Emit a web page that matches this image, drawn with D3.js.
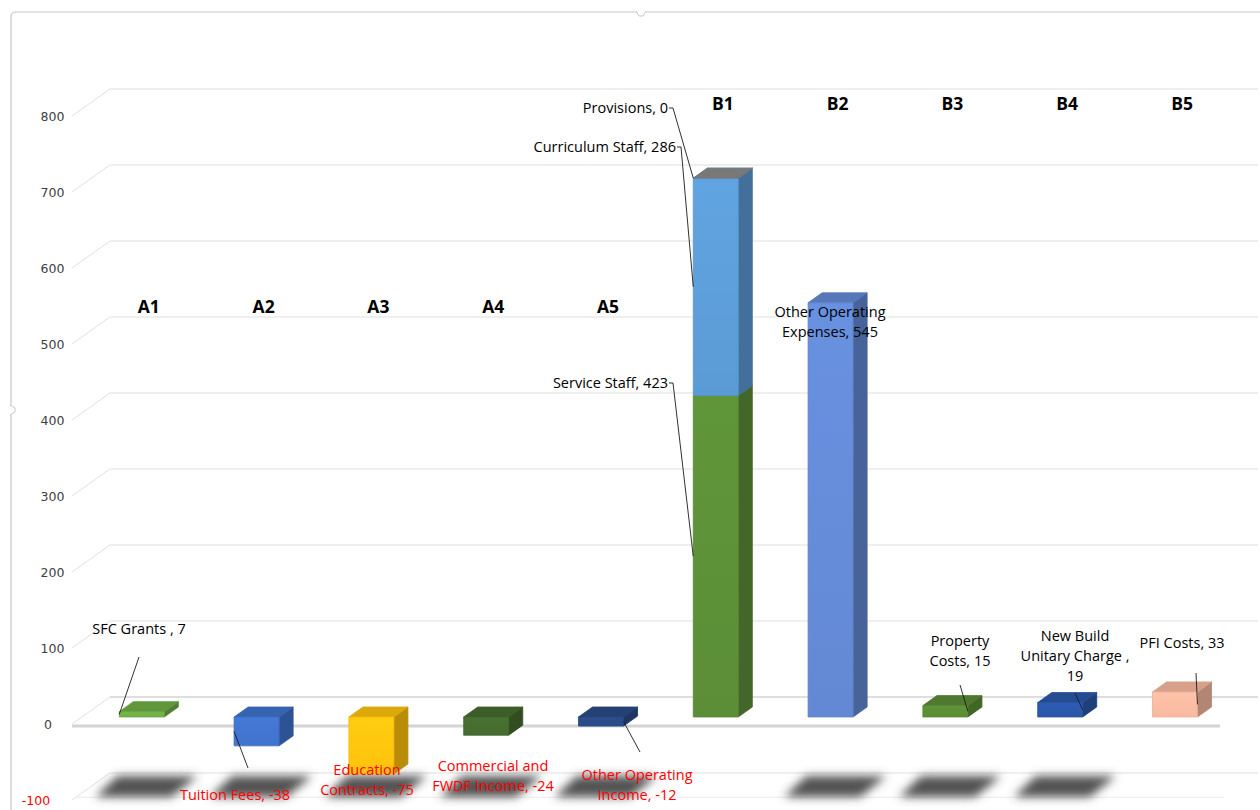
<!DOCTYPE html>
<html>
<head>
<meta charset="utf-8">
<script src="https://cdn.jsdelivr.net/npm/d3@7"></script>
<style>
  html, body { margin: 0; padding: 0; background: #fff; }
  svg { display: block; }
</style>
</head>
<body>
<svg id="chart" width="1260" height="810"></svg>
<script>
// ---- data ----
const categories = ["A1", "A2", "A3", "A4", "A5", "B1", "B2", "B3", "B4", "B5"];
const seriesNames = [
  "SFC Grants ", "Tuition Fees", "Education Contracts", "Commercial and FWDF Income",
  "Other Operating Income", "Service Staff", "Curriculum Staff", "Provisions",
  "Other Operating Expenses", "Property Costs", "New Build Unitary Charge ", "PFI Costs"
];
const seriesCategory = ["A1", "A2", "A3", "A4", "A5", "B1", "B1", "B1", "B2", "B3", "B4", "B5"];
const seriesValues = [7, -38, -75, -24, -12, 423, 286, 0, 545, 15, 19, 33];
const yTicks = [-100, 0, 100, 200, 300, 400, 500, 600, 700, 800];
const shadowCategories = ["A1", "A2", "A3", "A4", "A5", "B2", "B3", "B4"];

// ---- styling ----
const seriesColors = [
  "#6fae45", "#4073cc", "#ffc20e", "#456b2e", "#2a4a86", "#5b8e37",
  "#5b9bd5", "#8a8a8a", "#6389d4", "#5a8c35", "#2b57aa", "#f7b9a0"
];

// label placement: anchor point, text anchor, word breaks, leader start, leader end side
const labelLayout = [
  { x: 139, y: 634, anchor: "middle", breaks: [], leader: [[139, 657]], side: "L" },
  { x: 235, y: 800, anchor: "middle", breaks: [], leader: [[248, 768]], side: "L" },
  { x: 367, y: 775, anchor: "middle", breaks: [1], leader: null },
  { x: 493, y: 771, anchor: "middle", breaks: [2], leader: null },
  { x: 637, y: 780, anchor: "middle", breaks: [2], leader: [[640, 752]], side: "R" },
  { x: 668, y: 388, anchor: "end", breaks: [], leader: [[669, 383], [673, 383]], side: "L" },
  { x: 676, y: 152, anchor: "end", breaks: [], leader: [[677, 147], [681, 147]], side: "L" },
  { x: 668, y: 113, anchor: "end", breaks: [], leader: [[669, 108], [673, 108]], side: "L" },
  { x: 830, y: 317, anchor: "middle", breaks: [2], leader: null },
  { x: 960, y: 646, anchor: "middle", breaks: [1], leader: [[960, 685]], side: "R" },
  { x: 1075, y: 641, anchor: "middle", breaks: [2, 3], leader: [[1075, 693]], side: "R" },
  { x: 1182, y: 648, anchor: "middle", breaks: [], leader: [[1196, 673]], side: "R" }
];

const LABEL_FONT = "'Open Sans', 'Noto Sans', sans-serif";
const svg = d3.select("#chart");

// ---- 3D projection ----
const DX = 38, DY = -27;         // offset of the back wall relative to the front plane
const F0 = 0.26, F1 = 0.63;      // depth extent of the columns
const y = d3.scaleLinear().domain([-100, 800]).range([800, 116]);
const x = d3.scaleBand().domain(categories).range([74.5, 1222.5])
  .paddingInner(0.608).paddingOuter(0.304);
const P = (xf, v, f) => [xf + DX * f, y(v) + DY * f];
const poly = pts => "M" + pts.map(p => p[0].toFixed(2) + "," + p[1].toFixed(2)).join("L") + "Z";

// ---- chart frame ----
svg.append("path")
  .attr("d", "M11,810 V17 Q11,12 16,12 H1260")
  .attr("fill", "none").attr("stroke", "#c8c8c8").attr("stroke-width", 1.2);
svg.append("path").attr("d", "M636,11 L639,16 L643,16 L646,11")
  .attr("fill", "#fff").attr("stroke", "#c8c8c8");
svg.append("path").attr("d", "M10,405 L15,408 L15,412 L10,415")
  .attr("fill", "#fff").attr("stroke", "#c8c8c8");

// ---- walls / gridlines ----
const grid = svg.append("g");
yTicks.forEach(v => {
  const c = v === 0 ? "#bdbdbd" : "#e0e0e0";
  grid.append("line")
    .attr("x1", P(72, v, 1)[0]).attr("y1", P(72, v, 1)[1])
    .attr("x2", P(1220, v, 1)[0]).attr("y2", P(1220, v, 1)[1])
    .attr("stroke", c).attr("stroke-width", 1.2);
  grid.append("line")
    .attr("x1", P(72, v, 0)[0]).attr("y1", P(72, v, 0)[1])
    .attr("x2", P(72, v, 1)[0]).attr("y2", P(72, v, 1)[1])
    .attr("stroke", "#e0e0e0").attr("stroke-width", 1);
});
// floor front edges
grid.append("line")
  .attr("x1", P(72, 0, 0)[0]).attr("y1", P(72, 0, 0)[1] + 2)
  .attr("x2", P(1220, 0, 0)[0]).attr("y2", P(1220, 0, 0)[1] + 2)
  .attr("stroke", "#d4d4d4").attr("stroke-width", 3);
grid.append("line")
  .attr("x1", P(72, -100, 0.1)[0]).attr("y1", P(72, -100, 0.1)[1])
  .attr("x2", P(1220, -100, 0.1)[0]).attr("y2", P(1220, -100, 0.1)[1])
  .attr("stroke", "#ececec").attr("stroke-width", 1);

// ---- y axis labels ----
svg.append("g").selectAll("text").data(yTicks).join("text")
  .attr("x", d => d > 0 ? 52.5 : (d === 0 ? 48 : 36))
  .attr("y", d => y(d) + 4.5)
  .attr("text-anchor", "middle")
  .attr("font-family", "'DejaVu Sans', Verdana, sans-serif")
  .attr("font-size", 12.5)
  .attr("fill", d => d < 0 ? "#ff0000" : "#404040")
  .text(d => d);

// ---- defs: blur + gradients ----
const defs = svg.append("defs");
defs.append("filter").attr("id", "shadowBlur")
  .attr("x", "-40%").attr("y", "-80%").attr("width", "180%").attr("height", "260%")
  .append("feGaussianBlur").attr("stdDeviation", 5);
seriesColors.forEach((c, i) => {
  const g = defs.append("linearGradient").attr("id", "front" + i)
    .attr("x1", 0).attr("y1", 0).attr("x2", 0).attr("y2", 1);
  g.append("stop").attr("offset", 0).attr("stop-color", d3.color(c).brighter(0.15));
  g.append("stop").attr("offset", 1).attr("stop-color", c);
});

// ---- floor shadows ----
svg.append("g").attr("filter", "url(#shadowBlur)")
  .selectAll("path").data(shadowCategories).join("path")
  .attr("d", c => {
    const x0 = x(c), yb = y(-100) - 3, yt = y(-100) - 24;
    return poly([[x0 - 14, yb], [x0 + 62, yb], [x0 + 88, yt], [x0 + 8, yt]]);
  })
  .attr("fill", "#4a4a4a").attr("opacity", 0.95);

// ---- stacked 3D columns ----
const stackTop = {};
const boxes = seriesValues.map((v, i) => {
  const cat = seriesCategory[i];
  const base = v >= 0 ? (stackTop[cat] || 0) : 0;
  const end = base + v;
  if (v >= 0) stackTop[cat] = end;
  return { i, cat, lo: Math.min(base, end), hi: Math.max(base, end), mid: (base + end) / 2 };
});

const bars = svg.append("g");
boxes.forEach(b => {
  const x0 = x(b.cat), x1 = x0 + x.bandwidth();
  const c = d3.color(seriesColors[b.i]);
  const g = bars.append("g").attr("stroke-linejoin", "round");
  const side = [P(x1, b.hi, F0), P(x1, b.hi, F1), P(x1, b.lo, F1), P(x1, b.lo, F0)];
  const top = [P(x0, b.hi, F0), P(x1, b.hi, F0), P(x1, b.hi, F1), P(x0, b.hi, F1)];
  const front = [P(x0, b.hi, F0), P(x1, b.hi, F0), P(x1, b.lo, F0), P(x0, b.lo, F0)];
  const sideC = c.darker(0.9), topC = c.darker(0.4);
  g.append("path").attr("d", poly(side)).attr("fill", sideC).attr("stroke", sideC).attr("stroke-width", 0.8);
  g.append("path").attr("d", poly(top)).attr("fill", topC).attr("stroke", topC).attr("stroke-width", 0.8);
  if (b.hi > b.lo) {
    g.append("path").attr("d", poly(front)).attr("fill", `url(#front${b.i})`)
      .attr("stroke", c.darker(0.15)).attr("stroke-width", 0.8);
  }
});

// ---- category headings ----
svg.append("g").selectAll("text").data(categories).join("text")
  .attr("x", d => x(d) + x.bandwidth() / 2 + DX * (F0 + F1) / 2)
  .attr("y", d => d.startsWith("A") ? 313 : 110)
  .attr("text-anchor", "middle")
  .attr("font-family", LABEL_FONT)
  .attr("font-weight", "bold")
  .attr("font-size", 17.5)
  .attr("fill", "#000")
  .text(d => d);

// ---- data labels with leader lines ----
const labels = svg.append("g").attr("font-family", LABEL_FONT).attr("font-size", 14.5);
boxes.forEach(b => {
  const L = labelLayout[b.i];
  const v = seriesValues[b.i];
  const words = (seriesNames[b.i] + ", " + v).split(" ");
  const lines = [];
  let start = 0;
  L.breaks.concat([words.length - d3.sum(L.breaks)]).forEach(n => {
    lines.push(words.slice(start, start + n).join(" "));
    start += n;
  });
  const t = labels.append("text")
    .attr("text-anchor", L.anchor)
    .attr("fill", v < 0 ? "#ff0000" : "#000");
  lines.forEach((ln, k) => t.append("tspan").attr("x", L.x).attr("y", L.y + k * 20).text(ln));

  if (L.leader) {
    const x0 = x(b.cat);
    const ex = L.side === "L" ? x0 : x0 + x.bandwidth();
    const end = P(ex, b.mid, F0);
    const pts = L.leader.concat([end]);
    labels.append("path")
      .attr("d", "M" + pts.map(p => p.join(",")).join("L"))
      .attr("fill", "none").attr("stroke", "#1a1a1a").attr("stroke-width", 0.9);
  }
});
</script>
</body>
</html>
